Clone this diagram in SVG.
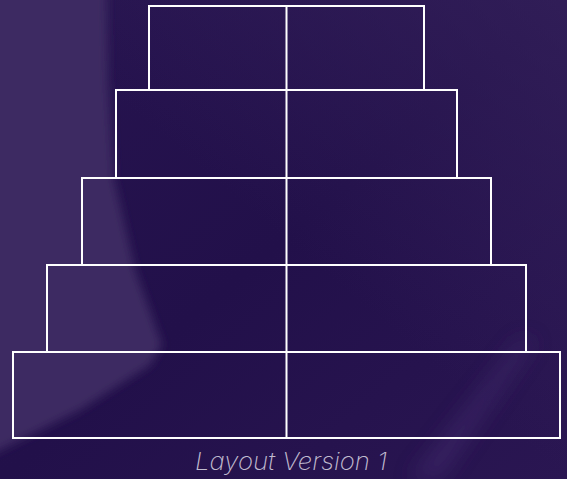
<svg xmlns="http://www.w3.org/2000/svg" width="567" height="479" viewBox="0 0 567 479">
<defs>
<linearGradient id="bg" x1="0" y1="0" x2="1" y2="1">
<stop offset="0" stop-color="#271450"/>
<stop offset="0.5" stop-color="#22104a"/>
<stop offset="1" stop-color="#2a1652"/>
</linearGradient>
<linearGradient id="tr" x1="0" y1="1" x2="1" y2="0">
<stop offset="0.5" stop-color="#3a2660" stop-opacity="0"/>
<stop offset="1" stop-color="#3a2660" stop-opacity="0.6"/>
</linearGradient>
<filter id="blur" x="-20%" y="-20%" width="140%" height="140%"><feGaussianBlur stdDeviation="5"/></filter>
<filter id="blur2" x="-20%" y="-20%" width="140%" height="140%"><feGaussianBlur stdDeviation="10"/></filter>
<style>
.tier rect{fill:none;stroke:#ffffff;stroke-width:2}
.tier line{stroke:#ffffff;stroke-width:2}
.cap{font-family:"Inter","Open Sans",sans-serif;font-style:italic;font-weight:200;font-size:24px;fill:#c0bbcf}
</style>
</defs>
<rect width="567" height="479" fill="url(#bg)"/>
<rect width="567" height="479" fill="url(#tr)"/>
<polygon points="-20,-20 106,-20 108,80 114,180 135,270 162,345 150,365 80,410 10,445 -20,460" fill="#3c2a62" filter="url(#blur)"/>
<polygon points="410,479 520,340 535,340 440,479" fill="#3d2868" opacity="0.7" filter="url(#blur2)"/>
<g id="tier1" class="tier"><rect x="149" y="6" width="275" height="84"/><line x1="286.5" y1="6" x2="286.5" y2="90"/></g>
<g id="tier2" class="tier"><rect x="116" y="90" width="341" height="88"/><line x1="286.5" y1="90" x2="286.5" y2="178"/></g>
<g id="tier3" class="tier"><rect x="82" y="178" width="409" height="87"/><line x1="286.5" y1="178" x2="286.5" y2="265"/></g>
<g id="tier4" class="tier"><rect x="47" y="265" width="479" height="87"/><line x1="286.5" y1="265" x2="286.5" y2="352"/></g>
<g id="tier5" class="tier"><rect x="13" y="352" width="547" height="86"/><line x1="286.5" y1="352" x2="286.5" y2="438"/></g>
<text class="cap" x="291" y="470" text-anchor="middle" textLength="192" lengthAdjust="spacingAndGlyphs">Layout Version 1</text>
</svg>
